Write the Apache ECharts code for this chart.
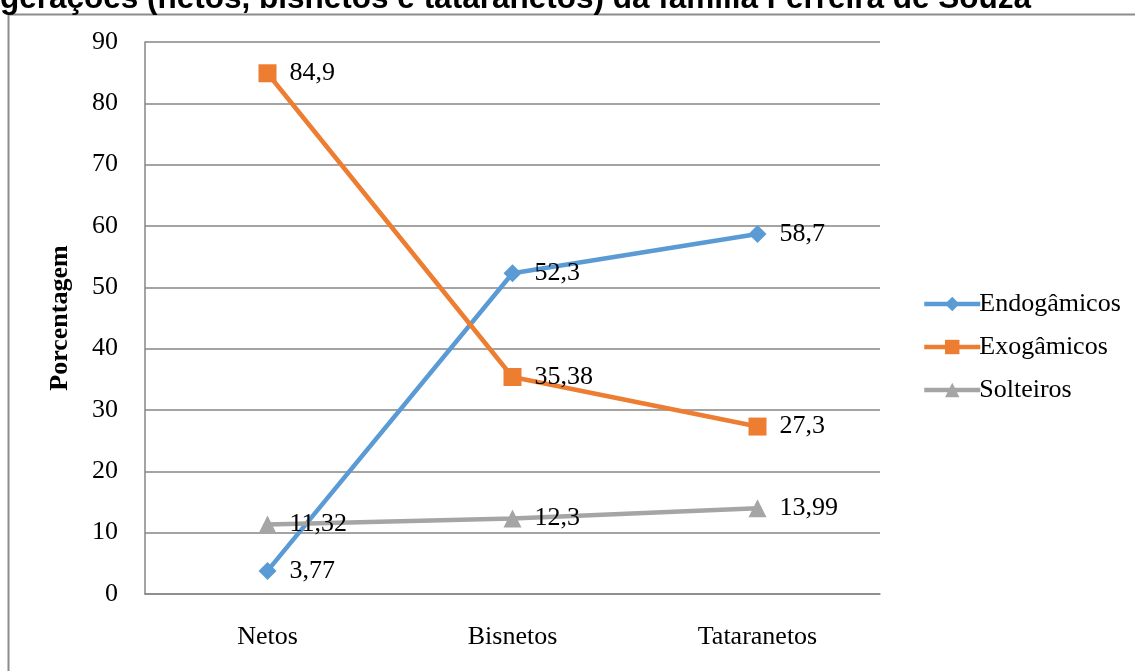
<!DOCTYPE html>
<html><head><meta charset="utf-8">
<script src="https://cdn.jsdelivr.net/npm/echarts@6/dist/echarts.min.js"></script>
<style>html,body{margin:0;padding:0;background:#fff}#c{width:1135px;height:671px}</style>
</head><body><div id="c"></div>
<script>
const categories = ['Netos', 'Bisnetos', 'Tataranetos'];
const endogamicos = [3.77, 52.3, 58.7];
const exogamicos = [84.9, 35.38, 27.3];
const solteiros = [11.32, 12.3, 13.99];
const yTicks = [0, 10, 20, 30, 40, 50, 60, 70, 80, 90];

const fmt = p => String(p.value).replace('.', ',');
const serif = '"Liberation Serif", "DejaVu Serif", serif';
const FS = 26;
const lbl = {show: true, position: 'right', distance: 13, formatter: fmt, color: '#000', fontFamily: serif, fontSize: FS};

const chart = echarts.init(document.getElementById('c'));
chart.setOption({
  animation: false,
  graphic: [
    {type: 'rect', shape: {x: 8.5, y: 14.5, width: 1200, height: 700}, style: {fill: 'none', stroke: '#8c8c8c', lineWidth: 2}, silent: true},
    {type: 'text', left: 0, top: -17, style: {text: 'gerações (netos, bisnetos e tataranetos) da família Ferreira de Souza', font: 'bold 31.5px "Liberation Sans", Arial, sans-serif', fill: '#000'}}
  ],
  grid: {left: 145, right: 255, top: 42, bottom: 77},
  legend: {
    orient: 'vertical', left: 917, top: 286, itemGap: 17, itemWidth: 56, itemHeight: 18,
    lineStyle: {width: 4.5},
    textStyle: {fontFamily: serif, fontSize: FS, color: '#000', padding: [0, 0, 0, -6]},
    data: ['Endogâmicos', 'Exogâmicos', 'Solteiros']
  },
  xAxis: {
    type: 'category', data: categories, boundaryGap: true,
    axisLine: {lineStyle: {color: '#868686', width: 1.5}},
    axisTick: {show: false},
    axisLabel: {color: '#000', fontFamily: serif, fontSize: FS, margin: 30}
  },
  yAxis: {
    type: 'value', min: yTicks[0], max: yTicks[yTicks.length - 1], interval: 10,
    name: 'Porcentagem', nameLocation: 'middle', nameGap: 72, nameRotate: 90,
    nameTextStyle: {fontFamily: serif, fontSize: FS, fontWeight: 'bold', color: '#000'},
    axisLine: {show: true, lineStyle: {color: '#868686', width: 1.5}},
    axisTick: {show: false},
    axisLabel: {color: '#000', fontFamily: serif, fontSize: FS, margin: 27},
    splitLine: {lineStyle: {color: '#868686', width: 1.5}}
  },
  series: [
    {name: 'Endogâmicos', type: 'line', data: endogamicos, symbol: 'diamond', symbolSize: 18,
      lineStyle: {color: '#5B9BD5', width: 4.5}, itemStyle: {color: '#5B9BD5'}, label: lbl},
    {name: 'Exogâmicos', type: 'line', data: exogamicos, symbol: 'rect', symbolSize: 18,
      lineStyle: {color: '#ED7D31', width: 4.5}, itemStyle: {color: '#ED7D31'}, label: lbl},
    {name: 'Solteiros', type: 'line', data: solteiros, symbol: 'triangle', symbolSize: 18,
      lineStyle: {color: '#A5A5A5', width: 4.5}, itemStyle: {color: '#A5A5A5'}, label: lbl}
  ]
});
</script></body></html>
